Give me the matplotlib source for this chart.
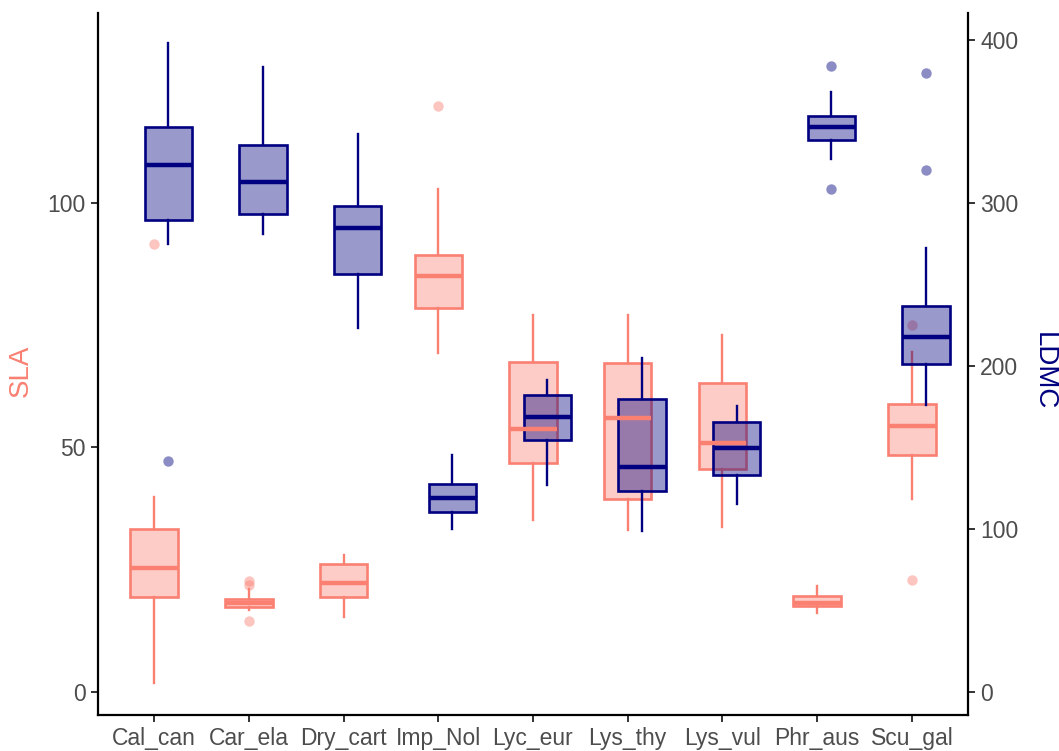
import matplotlib
matplotlib.use('Agg')
import matplotlib.pyplot as plt
from matplotlib.colors import to_rgba
from matplotlib import rcParams

rcParams['font.family'] = ['Liberation Sans', 'DejaVu Sans']

species = ['Cal_can', 'Car_ela', 'Dry_cart', 'Imp_Nol', 'Lyc_eur',
           'Lys_thy', 'Lys_vul', 'Phr_aus', 'Scu_gal']

# SLA box stats (left axis)
sla_whislo = [1.8, 16.7, 15.3, 69.3, 35.1, 33.1, 33.6, 16.2, 39.4]
sla_q1 = [19.3, 17.3, 19.4, 78.4, 46.7, 39.4, 45.5, 17.5, 48.4]
sla_med = [25.4, 18.1, 22.2, 85.0, 53.7, 55.9, 50.8, 18.2, 54.3]
sla_q3 = [33.3, 18.9, 26.1, 89.3, 67.4, 67.2, 63.1, 19.6, 58.8]
sla_whishi = [39.9, 21.1, 28.0, 102.8, 77.0, 77.0, 72.9, 21.6, 69.5]
sla_fliers = [[91.6], [22.7, 21.8, 14.5], [], [119.8], [], [], [], [], [22.8, 75.0]]

# LDMC box stats (right axis)
ldmc_whislo = [274.6, 281.1, 223.4, 99.8, 126.6, 98.8, 115.2, 326.8, 176.2]
ldmc_q1 = [289.5, 293.2, 256.1, 110.6, 154.7, 122.9, 133.2, 338.7, 201.2]
ldmc_med = [323.1, 313.1, 284.8, 119.2, 168.4, 137.7, 149.6, 346.3, 217.8]
ldmc_q3 = [346.3, 335.4, 298.1, 127.5, 182.4, 179.9, 165.6, 353.4, 236.6]
ldmc_whishi = [398.3, 383.1, 342.2, 145.1, 191.0, 204.9, 175.2, 368.2, 272.5]
ldmc_fliers = [[141.4], [], [], [], [], [], [], [384.1, 308.4], [379.5, 320.0]]

scale = 3.0  # LDMC = 3 * SLA on the secondary axis

sla_col = '#FA8072'
ldmc_col = '#000080'


def make_stats(lo, q1, med, q3, hi, fl, k=1.0):
    out = []
    for i in range(len(lo)):
        out.append({'whislo': lo[i] / k, 'q1': q1[i] / k, 'med': med[i] / k,
                    'q3': q3[i] / k, 'whishi': hi[i] / k,
                    'fliers': [f / k for f in fl[i]]})
    return out


def draw(ax, stats, pos, col):
    ax.bxp(stats, positions=pos, widths=0.5, patch_artist=True, showcaps=False,
           boxprops=dict(facecolor=to_rgba(col, 0.4), edgecolor=col, linewidth=1.9),
           medianprops=dict(color=col, linewidth=3.2, solid_capstyle='butt'),
           whiskerprops=dict(color=col, linewidth=1.7),
           flierprops=dict(marker='o', markersize=7.5, markerfacecolor=to_rgba(col, 0.45),
                           markeredgecolor='none'),
           manage_ticks=False)


fig = plt.figure(figsize=(10.59, 7.51), dpi=100)
ax = fig.add_axes([0.0923, 0.0479, 0.822, 0.9352])

x = list(range(1, len(species) + 1))
draw(ax, make_stats(sla_whislo, sla_q1, sla_med, sla_q3, sla_whishi, sla_fliers), x, sla_col)
draw(ax, make_stats(ldmc_whislo, ldmc_q1, ldmc_med, ldmc_q3, ldmc_whishi, ldmc_fliers, scale),
     [i + 0.15 for i in x], ldmc_col)

ax.set_xlim(0.405, 9.595)
ax.set_ylim(-4.76, 138.9)
ax.set_xticks(x)
ax.set_xticklabels(species)
ax.set_yticks([0, 50, 100])

ax2 = ax.twinx()
ax2.set_ylim(-4.76 * scale, 138.9 * scale)
ax2.set_yticks([0, 100, 200, 300, 400])

for a in (ax, ax2):
    a.spines['top'].set_visible(False)
    for s in ('left', 'right', 'bottom'):
        a.spines[s].set_linewidth(1.6)
        a.spines[s].set_color('black')
    a.tick_params(axis='both', labelsize=16.5, labelcolor='#4D4D4D', color='#333333',
                  width=1.4, length=5)
ax.spines['right'].set_visible(False)
ax2.spines['left'].set_visible(False)
ax2.spines['bottom'].set_visible(False)

ax.set_ylabel('SLA', color=sla_col, fontsize=20, va='center')
ax.yaxis.set_label_coords(-0.088, 0.49)
ax2.set_ylabel('LDMC', color=ldmc_col, fontsize=20, rotation=-90, va='center')
ax2.yaxis.set_label_coords(1.087, 0.49)

fig.savefig('out.png', dpi=100)
